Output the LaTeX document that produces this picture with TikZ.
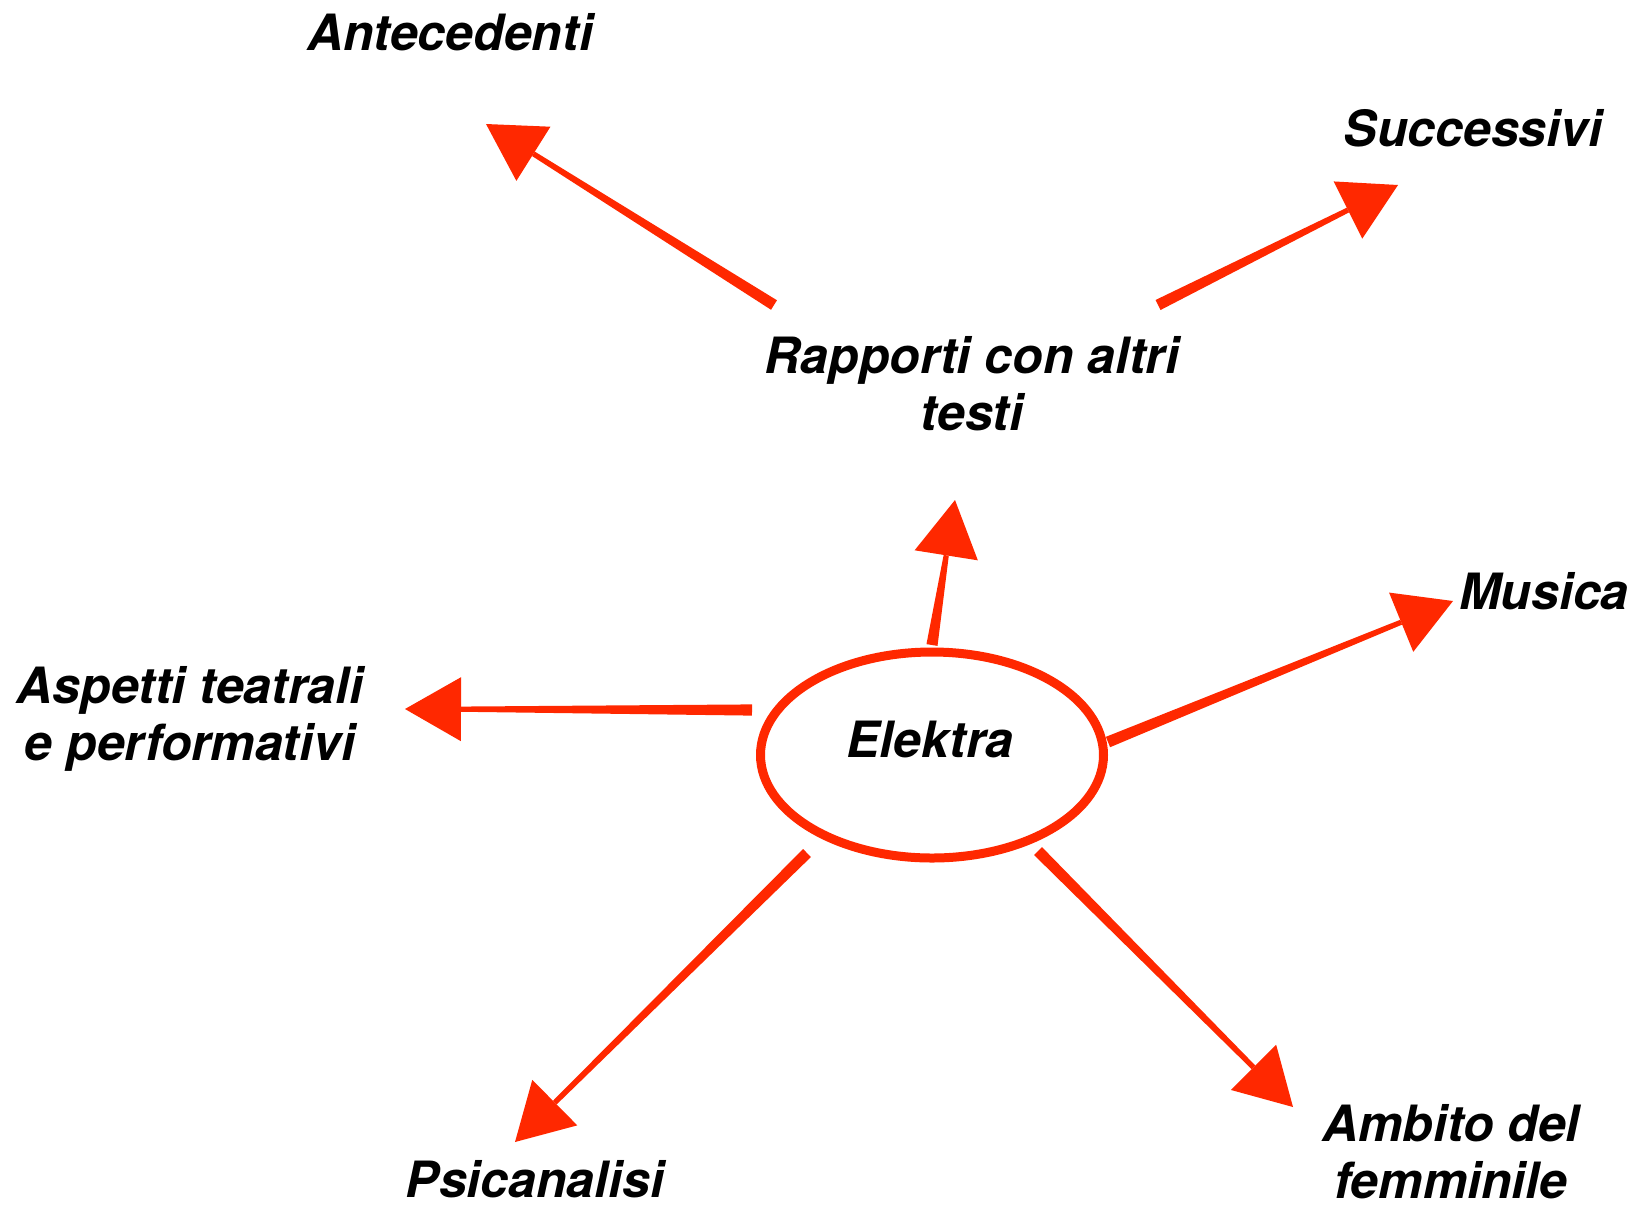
\documentclass[tikz,border=0pt]{standalone}
\usepackage{fontspec}
\setmainfont{TeX Gyre Heros}
\usetikzlibrary{calc,shapes.geometric}
\definecolor{skred}{RGB}{255,40,0}
% #1 = tail coordinate, #2 = tip coordinate
\newcommand\skarrow[2]{%
  \path ($(#2)!28pt!(#1)$) coordinate (skB);
  \fill[skred] ($(#1)!2.8pt!90:(#2)$) -- ($(skB)!1.3pt!90:(#2)$)
     -- ($(skB)!1.3pt!-90:(#2)$) -- ($(#1)!2.8pt!-90:(#2)$) -- cycle;
  \fill[skred] (#2) -- ($(skB)!16pt!90:(#2)$) -- ($(skB)!16pt!-90:(#2)$) -- cycle;
}
\begin{document}
\begin{tikzpicture}[x=0.5pt,y=-0.5pt,
  lbl/.style={font=\fontsize{25}{28.5}\selectfont\bfseries\itshape,
              align=center, anchor=base, inner sep=0pt}]
\useasboundingbox (0,0) rectangle (1640,1207);
\fill[white] (0,0) rectangle (1640,1207);

\node[draw=skred, line width=4.5pt, ellipse, minimum width=171.5pt,
      minimum height=103pt, inner sep=0pt] (E) at (932,755) {};
\node[lbl] (el) at (930,757) {Elektra};

% for two-line labels the base anchor is the baseline of the last line
\node[lbl] (rap) at (972,430) {Rapporti con altri\\testi};
\node[lbl] (ant) at (450,50) {Antecedenti};
\node[lbl] (suc) at (1473,146) {Successivi};
\node[lbl] (mus) at (1544,609) {Musica};
\node[lbl] (asp) at (190,760) {Aspetti teatrali\\e performativi};
\node[lbl] (psi) at (535,1197) {Psicanalisi};
\node[lbl] (amb) at (1451,1198) {Ambito del\\femminile};

\coordinate (t1) at (932,645);  \coordinate (h1) at (955,500);
\coordinate (t2) at (774,305);  \coordinate (h2) at (486,124);
\coordinate (t3) at (1158,305); \coordinate (h3) at (1398,185);
\coordinate (t4) at (1108,742); \coordinate (h4) at (1453,601);
\coordinate (t5) at (752,710);  \coordinate (h5) at (405,709);
\coordinate (t6) at (807,853);  \coordinate (h6) at (515,1142);
\coordinate (t7) at (1038,851); \coordinate (h7) at (1293,1107);

\skarrow{t1}{h1}
\skarrow{t2}{h2}
\skarrow{t3}{h3}
\skarrow{t4}{h4}
\skarrow{t5}{h5}
\skarrow{t6}{h6}
\skarrow{t7}{h7}
\end{tikzpicture}
\end{document}
